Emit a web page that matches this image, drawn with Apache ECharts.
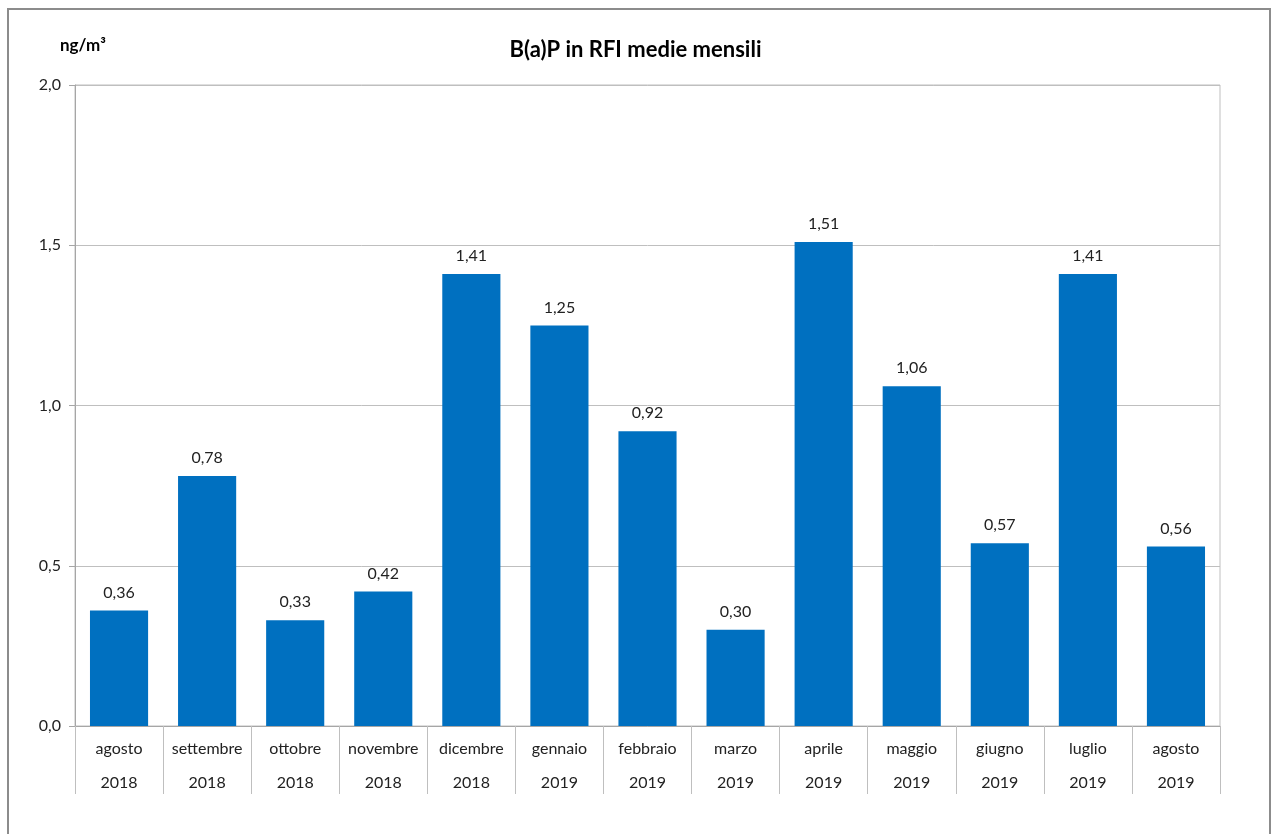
<!DOCTYPE html>
<html>
<head>
<meta charset="utf-8">
<script src="https://cdn.jsdelivr.net/npm/echarts@6/dist/echarts.min.js"></script>
<style>
  html, body { margin: 0; padding: 0; background: #fff; }
  #chart { width: 1271px; height: 834px; }
</style>
</head>
<body>
<div id="chart"></div>
<script>
var months = ['agosto', 'settembre', 'ottobre', 'novembre', 'dicembre', 'gennaio', 'febbraio',
  'marzo', 'aprile', 'maggio', 'giugno', 'luglio', 'agosto'];
var years = ['2018', '2018', '2018', '2018', '2018', '2019', '2019',
  '2019', '2019', '2019', '2019', '2019', '2019'];
var values = [0.36, 0.78, 0.33, 0.42, 1.41, 1.25, 0.92, 0.30, 1.51, 1.06, 0.57, 1.41, 0.56];
var yTicks = [0, 0.5, 1.0, 1.5, 2.0];

var categories = months.map(function (m, i) { return m + '\n' + years[i]; });

function comma(v, d) {
  return v.toFixed(d).replace('.', ',');
}

var chart = echarts.init(document.getElementById('chart'));

var option = {
  backgroundColor: '#fff',
  animation: false,
  textStyle: { fontFamily: 'Lato, "Open Sans", sans-serif' },
  title: {
    text: 'B(a)P in RFI medie mensili',
    left: 'center',
    top: 34,
    textStyle: { fontSize: 22, fontWeight: 'bold', color: '#000', fontFamily: 'Lato, sans-serif' }
  },
  graphic: [
    {
      type: 'rect',
      shape: { x: 8, y: 9, width: 1262, height: 900 },
      style: { fill: 'none', stroke: '#8c8c8c', lineWidth: 2 }
    },
    {
      type: 'text',
      left: 60,
      top: 37,
      style: { text: 'ng/m³', fontSize: 17, fontWeight: 'bold', fill: '#000', fontFamily: 'Lato, sans-serif' }
    }
  ],
  grid: {
    left: 75,
    right: 51,
    top: 85,
    bottom: 108,
    show: true,
    borderColor: '#bfbfbf',
    borderWidth: 1
  },
  xAxis: {
    type: 'category',
    data: categories,
    axisLine: { lineStyle: { color: '#a6a6a6' } },
    axisTick: { show: true, length: 68, interval: 0, lineStyle: { color: '#bfbfbf' } },
    axisLabel: {
      interval: 0,
      margin: 6,
      fontSize: 16,
      color: '#222',
      lineHeight: 34
    }
  },
  yAxis: {
    type: 'value',
    min: yTicks[0],
    max: yTicks[yTicks.length - 1],
    interval: 0.5,
    axisLine: { show: true, lineStyle: { color: '#a6a6a6' } },
    axisTick: { show: true, length: 6, lineStyle: { color: '#a6a6a6' } },
    splitLine: { lineStyle: { color: '#bfbfbf' } },
    axisLabel: {
      fontSize: 16,
      color: '#222',
      margin: 14,
      formatter: function (v) { return comma(v, 1); }
    }
  },
  series: [{
    type: 'bar',
    data: values,
    barCategoryGap: '34%',
    itemStyle: { color: '#0070c0' },
    label: {
      show: true,
      position: 'top',
      distance: 10,
      fontSize: 16,
      color: '#222',
      formatter: function (p) { return comma(p.value, 2); }
    }
  }]
};

chart.setOption(option);
</script>
</body>
</html>
